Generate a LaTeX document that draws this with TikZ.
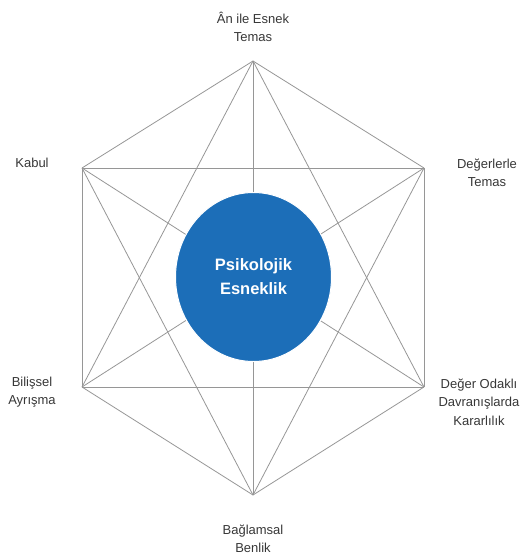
\documentclass[tikz,border=0pt]{standalone}
\usepackage{fontspec}
\setmainfont{Liberation Sans}
\usepackage{tikz}
\usepackage{xcolor}
\usetikzlibrary{shapes.geometric, positioning}
\definecolor{cBlue}{RGB}{28,110,184}
\definecolor{cEdge}{RGB}{150,150,150}
\definecolor{cText}{RGB}{55,55,55}
\tikzset{
	edgeline/.style={draw=cEdge, line width=0.8pt},
	facet/.style={align=center, text=cText, font=\fontsize{13}{18.5}\selectfont, inner sep=0pt},
	core/.style={ellipse, fill=cBlue, draw=white, line width=1pt, minimum width=156pt, minimum height=169pt, align=center, text=white, font=\bfseries\fontsize{16.5}{24}\selectfont},
}

\begin{document}
\begin{tikzpicture}[x=1pt, y=-1pt]
			\useasboundingbox (0,0) rectangle (528,559);
			% hexagon corners
			\coordinate (t) at (253,61);
			\coordinate (ur) at (424,168);
			\coordinate (lr) at (424,387);
			\coordinate (b) at (253,495);
			\coordinate (ll) at (82,387);
			\coordinate (ul) at (82,168);
			\foreach \a/\b in {t/ur, t/lr, t/b, t/ll, t/ul, ur/lr, ur/b, ur/ll, ur/ul, lr/b, lr/ll, lr/ul, b/ll, b/ul, ll/ul} {
				\draw[edgeline] (\a) -- (\b);
			}
			\node[core] (center) at (253.5,277) {Psikolojik\\Esneklik};
			% facet labels
			\node[facet] (tlabel) at (253,27) {Ân ile Esnek\\Temas};
			\node[facet] (ullabel) at (32,163) {Kabul};
			\node[facet] (urlabel) at (487,173) {Değerlerle\\Temas};
			\node[facet] (lllabel) at (32,392) {Bilişsel\\Ayrışma};
			\node[facet] (lrlabel) at (479,402) {Değer Odaklı\\Davranışlarda\\Kararlılık};
			\node[facet] (blabel) at (253,539) {Bağlamsal\\Benlik};
		\end{tikzpicture}
\end{document}
